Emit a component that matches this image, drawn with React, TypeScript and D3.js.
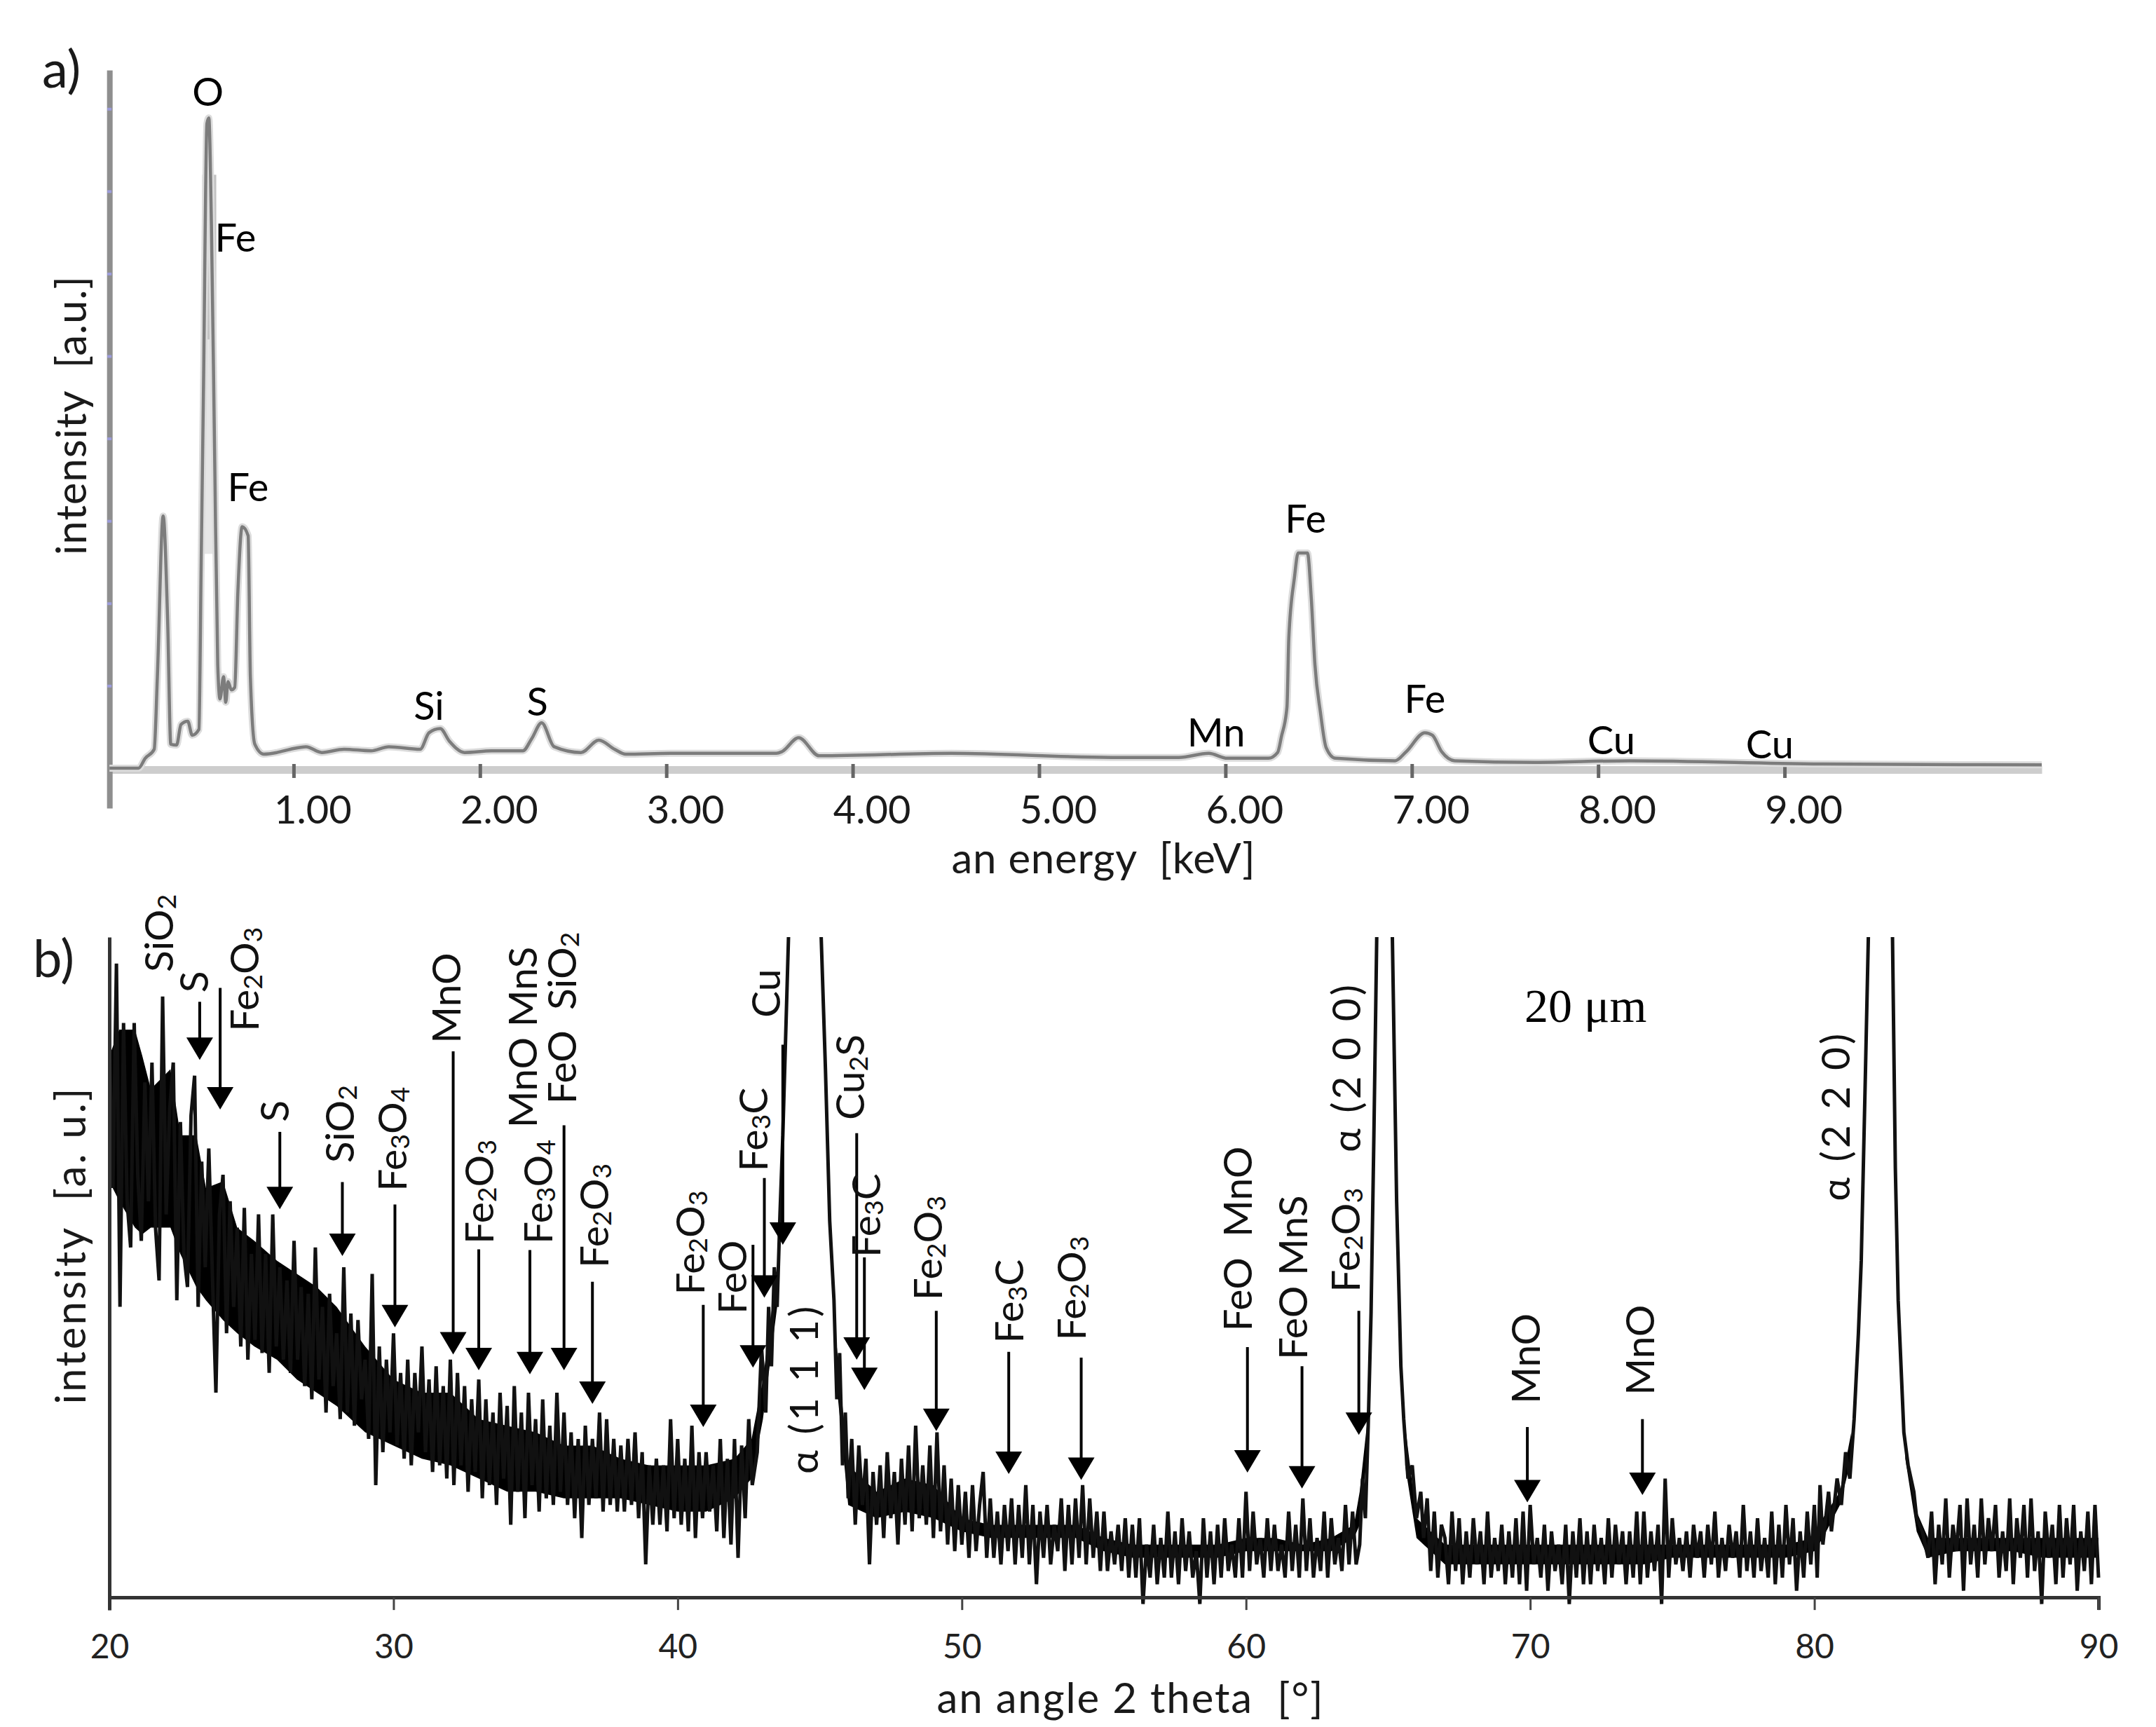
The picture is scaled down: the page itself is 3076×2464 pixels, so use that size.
// @ts-nocheck
import { useEffect, useRef } from 'react'
import * as d3 from 'd3'

// a) EDS spectrum, [energy keV, intensity]
const edsEnergy = [0.012, 0.168, 0.204, 0.252, 0.269, 0.3, 0.324, 0.341, 0.372, 0.396, 0.432, 0.456, 0.492, 0.504, 0.516, 0.535, 0.545, 0.559, 0.576, 0.593, 0.605, 0.624, 0.636, 0.648, 0.666, 0.684, 0.701, 0.724, 0.756, 0.768, 0.792, 0.84, 0.911, 0.983, 1.067, 1.151, 1.271, 1.415, 1.511, 1.679, 1.727, 1.787, 1.835, 1.918, 2.062, 2.23, 2.278, 2.331, 2.398, 2.542, 2.638, 2.722, 2.782, 3.021, 3.59, 3.62, 3.71, 3.82, 4.53, 5.39, 5.75, 5.91, 6.01, 6.23, 6.28, 6.3, 6.33, 6.34, 6.37, 6.39, 6.44, 6.46, 6.48, 6.51, 6.54, 6.59, 6.91, 6.97, 7.07, 7.11, 7.16, 7.23, 7.66, 8.17, 9.2, 10.38]
const edsIntensity = [0, 0, 0.12, 0.23, 1.11, 3.06, 1.8, 0.29, 0.28, 0.53, 0.57, 0.4, 0.47, 2.48, 4.53, 7.82, 7.89, 6.59, 3.85, 1.25, 0.84, 1.11, 0.8, 1.05, 0.95, 0.98, 2.14, 2.93, 2.82, 1.11, 0.29, 0.17, 0.19, 0.23, 0.26, 0.19, 0.23, 0.21, 0.26, 0.23, 0.43, 0.48, 0.33, 0.19, 0.21, 0.21, 0.36, 0.55, 0.26, 0.19, 0.34, 0.23, 0.17, 0.18, 0.18, 0.2, 0.37, 0.15, 0.18, 0.13, 0.13, 0.18, 0.12, 0.12, 0.19, 0.38, 0.74, 1.58, 2.31, 2.61, 2.61, 2.08, 1.26, 0.67, 0.25, 0.12, 0.09, 0.2, 0.43, 0.4, 0.2, 0.09, 0.07, 0.09, 0.05, 0.04]
const edsTicks = [1, 2, 3, 4, 5, 6, 7, 8, 9]
const edsLevels = [1, 2, 3, 4, 5, 6, 7, 8]
const edsLabels = [
  ['O', 0.54, 8.04],
  ['Fe', 0.688, 6.27],
  ['Fe', 0.756, 3.24],
  ['Si', 1.726, 0.59],
  ['S', 2.308, 0.64],
  ['Mn', 5.95, 0.26],
  ['Fe', 6.43, 2.86],
  ['Fe', 7.07, 0.67],
  ['Cu', 8.07, 0.17],
  ['Cu', 8.92, 0.12],
]
// grey smear of the scan inside the O line: energy range, then dark and pale intensity ranges
const oSmearEnergy = [0.51, 0.585]
const oSmearDark = [5.2, 7.2]
const oSmearPale = [2.6, 5.2]

// b) XRD pattern, noisy stretches are one value every 1/8 degree
const noiseStep = 0.125
const noiseLow = [
  84, 62, 96, 44, 87, 60, 53, 87,
  64, 54, 78, 60, 81, 56, 48, 91,
  58, 74, 81, 45, 72, 52, 47, 73,
  79, 44, 66, 50, 68, 49, 31, 58,
  64, 40, 60, 44, 56, 38, 59, 36,
  52, 39, 58, 37, 52, 34, 58, 38,
  50, 36, 48, 34, 54, 36, 47, 32,
  46, 30, 53, 33, 44, 28, 46, 32,
  40, 27, 50, 28, 43, 26, 42, 30,
  36, 24, 49, 17, 38, 22, 36, 25,
  40, 23, 34, 21, 36, 20, 34, 25,
  38, 22, 33, 19, 35, 20, 32, 18,
  36, 17, 34, 20, 32, 16, 30, 19,
  33, 15, 30, 17, 28, 14, 31, 18,
  29, 11, 32, 16, 28, 12, 31, 17,
  27, 13, 30, 15, 26, 14, 31, 16,
  28, 14, 25, 12, 24, 9, 26, 14,
  24, 15, 28, 13, 27, 14, 24, 13,
  23, 13, 24, 14, 25, 12, 22, 5,
  20, 11, 21, 11, 20, 10, 27, 12,
  24, 11, 21, 10, 26, 9, 22, 12,
  22, 13, 20, 10, 24, 9, 21, 8,
  24, 6, 23, 12, 27, 17,
]
const peak111 = [[42.8, 22], [42.95, 38], [43.1, 28], [43.2, 44], [43.3, 35], [43.4, 50], [43.5, 44], [43.6, 58], [43.7, 70], [43.9, 100], [44.5, 170], [45.05, 100], [45.2, 80], [45.35, 57], [45.5, 45], [45.6, 30], [45.7, 37], [45.8, 20], [45.9, 28]]
const noiseMid = [
  15, 24, 11, 23, 14, 21, 5, 19,
  11, 20, 9, 22, 12, 19, 8, 21,
  11, 23, 10, 26, 12, 20, 11, 23,
  9, 25, 10, 20, 8, 18, 7, 17,
  8, 16, 6, 17, 7, 14, 19, 6,
  15, 6, 13, 5, 14, 7, 15, 5,
  14, 6, 17, 5, 14, 2, 13, 6,
  14, 5, 11, 7, 15, 4, 14, 5,
  15, 6, 17, 5, 15, 6, 13, 4,
  13, 4, 10, 5, 11, 4, 12, 3,
  11, 3, 12, -1, 8, 3, 11, 2,
  9, 3, 13, 3, 10, 2, 12, 4,
  10, 3, 7, -1, 12, 3, 10, 2,
  11, 3, 12, 4, 8, 3, 12, 3,
  16, 4, 13, 5, 9, 3, 12, 4,
  11, 4, 8, 3, 13, 4, 11, 3,
  15, 4, 12, 3, 9, 4, 13, 3,
  12, 5, 9, 4, 14, 5, 13, 5,
]
const peak200 = [[64.0, 8], [64.1, 18], [64.2, 12], [64.3, 26], [64.4, 43], [64.5, 70], [64.6, 100], [64.9, 170], [65.15, 100], [65.3, 60], [65.45, 35], [65.55, 27], [65.7, 18], [65.85, 20], [66.0, 12], [66.15, 16]]
const noiseHigh = [
  9, 15, 4, 13, 3, 11,
  9, 2, 13, 4, 12, 2, 10, 3,
  12, 5, 10, 2, 13, 3, 9, 4,
  11, 2, 10, 3, 12, 2, 13, 1,
  14, 5, 9, 3, 11, 1, 10, 4,
  8, 2, 11, -1, 10, 3, 12, 2,
  10, 2, 11, 4, 9, 2, 12, 3,
  11, 5, 10, 2, 10, 3, 13, 2,
  13, 3, 10, 4, 11, -1, 18, 3,
  12, 5, 9, 4, 10, 3, 11, 6,
  10, 3, 11, 5, 13, 3, 9, 4,
  11, 6, 10, 3, 14, 4, 10, 3,
  12, 4, 9, 3, 13, 2, 11, 3,
  14, 5, 12, 1, 10, 3, 13, 5,
]
const peak220 = [[80.0, 14], [80.1, 3], [80.2, 17], [80.3, 8], [80.5, 16], [80.6, 10], [80.8, 18], [80.95, 14], [81.1, 22], [81.25, 18], [81.4, 27], [81.55, 40], [81.65, 51], [81.8, 80], [81.9, 100], [82.3, 170], [82.75, 100], [82.85, 65], [82.95, 45], [83.15, 25], [83.3, 20], [83.5, 16], [83.6, 12], [83.8, 10]]
const noiseEnd = [
  6, 13, 2, 11, 5, 15, 3, 11,
  7, 14, 1, 15, 5, 11, 3, 15,
  5, 12, 7, 14, 3, 10, 4, 15,
  2, 12, 6, 14, 3, 15, 4, 10,
  -1, 13, 6, 11, 2, 14, 3, 12,
  5, 14, 1, 10, 4, 13, 2, 14,
  3,
]
const xrdTicks = [20, 30, 40, 50, 60, 70, 80, 90]

// solid black core of the noise: angle, lower value, upper value
const coreAngles = [
  [20, 20.35, 20.9, 21.16, 21.46, 22.15, 22.5, 23.06, 23.4, 24, 24.5, 25.1, 25.9, 26.6, 27.3, 28, 29, 30, 31, 32, 33, 34, 35, 36, 37, 38, 39, 40, 41, 42, 42.6, 43, 43.5],
  [45.6, 46, 47, 48, 49, 50, 51, 52, 53, 54, 55, 56, 57, 58, 59, 60, 61, 62, 63, 63.8, 64, 64.3],
  [65.6, 66, 67, 68, 69, 70, 71, 72, 73, 74, 75, 76, 77, 78, 79, 80, 80.3, 80.9, 81.3],
  [83.2, 83.6, 84, 85, 86, 87, 88, 89, 90],
]
const coreLow = [
  [63, 60, 56, 55, 56, 56, 52, 47, 45, 42, 40, 38, 36, 33, 31, 29, 25, 23, 21, 20, 18, 16, 16, 15, 15, 15, 14, 13, 13, 15, 18, 27, 44],
  [32, 14, 12, 13, 12, 10, 9, 9, 9, 9, 7, 6, 6, 6, 6, 7, 7, 7, 7, 9, 11, 23],
  [20, 9, 5, 5, 5, 5, 5, 5, 5, 5, 6, 6, 6, 6, 6, 7, 9, 14, 21],
  [21, 10, 6, 7, 7, 7, 6, 6, 6],
]
const coreHigh = [
  [82, 86, 86, 82, 77, 80, 70, 70, 62, 63, 56, 54, 51, 49, 47, 44, 38, 33, 31, 31, 27, 26, 25, 23, 23, 21, 20, 20, 20, 21, 24, 33, 50],
  [38, 20, 16, 18, 17, 12, 11, 11, 11, 11, 9, 8, 8, 8, 8, 9, 9, 8, 9, 11, 16, 28],
  [26, 12, 8, 8, 8, 8, 8, 8, 8, 8, 8, 8, 8, 8, 8, 9, 12, 16, 25],
  [24, 13, 9, 9, 9, 9, 9, 9, 9],
]

// arrows: angle, value where the shaft starts, value at the tip
const xrdArrows = [
  [23.18, 90.2, 81.4], [23.9, 92.3, 73.9], [26.0, 70.5, 58.8], [28.2, 62.9, 51.7],
  [30.05, 59.5, 40.9], [32.1, 82.7, 36.8], [33.0, 52.7, 34.4], [34.8, 52.6, 33.8],
  [36.0, 71.5, 34.4], [37.0, 47.8, 29.3], [40.9, 44.3, 25.8], [42.65, 53.4, 34.8],
  [43.05, 63.5, 45.4], [43.7, 83.7, 53.4], [46.3, 70.3, 36], [46.57, 51.5, 31.4],
  [49.1, 43.4, 25.2], [51.65, 37.2, 18.7], [54.2, 36.3, 17.8], [60.05, 37.9, 18.9],
  [61.97, 35, 16.5], [63.97, 43.4, 24.6], [69.9, 25.8, 14.4], [73.95, 27, 15.5],
]
// rotated labels: text, angle, value at the start of the text
const xrdLabels = [
  ['SiO2', 21.7, 94.7], ['S', 22.93, 91.6], ['Fe2O3', 24.72, 85.7], ['S', 25.76, 72],
  ['SiO2', 28.06, 65.8], ['Fe3O4', 29.91, 61.5], ['MnO', 31.82, 83.9], ['Fe2O3', 32.97, 53.5],
  ['MnO MnS', 34.5, 71.1], ['Fe3O4', 35.05, 53.5], ['FeO  SiO2', 35.88, 74.7], ['Fe2O3', 37.02, 49.9],
  ['Fe2O3', 40.4, 45.8], ['FeO', 41.87, 42.9], ['Fe3C', 42.61, 64.5], ['Cu', 43.06, 87.8],
  ['α (1 1 1)', 44.4, 18.7], ['Cu2S', 46.03, 72.3], ['Fe3C', 46.59, 51.5], ['Fe2O3', 48.77, 45],
  ['Fe3C', 51.63, 38.5], ['Fe2O3', 53.81, 38.9], ['FeO  MnO', 59.65, 40.3], ['FeO MnS', 61.6, 36],
  ['Fe2O3', 63.46, 46.2], ['α (2 0 0)', 63.48, 67.4], ['MnO', 69.8, 29.3], ['MnO', 73.81, 30.6],
  ['α (2 2 0)', 80.7, 60],
]

const FONT = "Lato, 'Noto Sans', sans-serif"

// digits right after a letter become subscripts
function addFormula(text, label) {
  const parts = label.split(/(?<=[A-Za-z])(\d)/)
  let lowered = false
  parts.forEach((part, i) => {
    if (!part) return
    const isSub = i % 2 === 1
    const span = text.append('tspan').text(part)
    if (isSub) span.attr('font-size', '0.66em').attr('dy', '0.3em')
    else if (lowered) span.attr('dy', '-0.198em')
    lowered = isSub
  })
}

export default function App() {
  const svgRef = useRef<any>()

  useEffect(() => {
    const svg = d3.select(svgRef.current)
    svg.selectAll('*').remove()

    // ---- panel a
    const xA = d3.scaleLinear().domain([0, 10.38]).range([153, 2913])
    const yA = d3.scaleLinear().domain([-0.485, 8.47]).range([1153, 100])
    const lineA = d3
      .line()
      .curve(d3.curveMonotoneX)
      .x((d) => xA(d))
      .y((d) => yA(edsIntensity[edsEnergy.indexOf(d)]))

    const axisBottomA = svg
      .append('g')
      .attr('transform', `translate(0,${yA(0) + 2})`)
      .call(d3.axisBottom(xA).tickValues(edsTicks).tickSizeOuter(0).tickFormat(d3.format('.2f')))
    axisBottomA.select('.domain').attr('stroke', '#cdcdcd').attr('stroke-width', 11)
    axisBottomA.selectAll('.tick line').attr('y1', -8).attr('y2', 12).attr('stroke', '#666').attr('stroke-width', 5)
    axisBottomA
      .selectAll('.tick text')
      .attr('y', 77)
      .attr('dy', 0)
      .attr('dx', 27)
      .attr('font-family', FONT)
      .attr('font-size', 56)
      .attr('fill', '#1a1a1a')

    const axisLeftA = svg
      .append('g')
      .attr('transform', `translate(${xA(0.012)},0)`)
      .call(d3.axisLeft(yA).tickValues(edsLevels).tickSizeOuter(0).tickFormat(''))
    axisLeftA.select('.domain').attr('stroke', '#8e8e8e').attr('stroke-width', 8)
    axisLeftA.selectAll('.tick line').attr('x1', -3).attr('x2', 3).attr('stroke', '#9c9cdc').attr('stroke-width', 4)

    // smear inside the O line
    const drawSmear = (range, color) =>
      svg
        .append('rect')
        .attr('x', xA(oSmearEnergy[0]))
        .attr('width', xA(oSmearEnergy[1]) - xA(oSmearEnergy[0]))
        .attr('y', yA(range[1]))
        .attr('height', yA(range[0]) - yA(range[1]))
        .attr('fill', color)
    drawSmear(oSmearPale, '#e6e6e6')
    drawSmear(oSmearDark, '#c2c2c2')

    svg
      .append('path')
      .attr('d', lineA(edsEnergy))
      .attr('fill', 'none')
      .attr('stroke', '#dcdcdc')
      .attr('stroke-width', 10)
      .attr('stroke-linejoin', 'round')
    svg
      .append('path')
      .attr('d', lineA(edsEnergy))
      .attr('fill', 'none')
      .attr('stroke', '#7c7c7c')
      .attr('stroke-width', 4.5)
      .attr('stroke-linejoin', 'round')

    svg
      .append('g')
      .selectAll('text')
      .data(edsLabels)
      .enter()
      .append('text')
      .attr('x', (d) => xA(d[1]))
      .attr('y', (d) => yA(d[2]))
      .attr('text-anchor', 'middle')
      .attr('font-family', FONT)
      .attr('font-size', 56)
      .text((d) => d[0])

    // ---- panel b
    const xB = d3.scaleLinear().domain([20, 90]).range([156, 2994])
    const yB = d3.scaleLinear().domain([-1.9, 100]).range([2297, 1337])

    const stretch = (start, values) => values.map((v, i) => [start + i * noiseStep, v])
    const xrd = [
      ...stretch(20, noiseLow),
      ...peak111,
      ...stretch(46, noiseMid),
      ...peak200,
      ...stretch(66.25, noiseHigh),
      ...peak220,
      ...stretch(84, noiseEnd),
    ]

    coreAngles.forEach((angles, k) => {
      const area = d3
        .area()
        .x((_, i) => xB(angles[i]))
        .y0((_, i) => yB(coreLow[k][i]))
        .y1((_, i) => yB(coreHigh[k][i]))
      svg.append('path').attr('d', area(angles)).attr('fill', '#000')
    })

    svg
      .append('clipPath')
      .attr('id', 'xrd-clip')
      .append('rect')
      .attr('x', xB(20))
      .attr('y', yB(100))
      .attr('width', xB(90) - xB(20) + 4)
      .attr('height', yB(-1.9) - yB(100))

    svg
      .append('path')
      .attr('clip-path', 'url(#xrd-clip)')
      .attr('d', d3.line().x((d) => xB(d[0])).y((d) => yB(d[1]))(xrd))
      .attr('fill', 'none')
      .attr('stroke', '#111')
      .attr('stroke-width', 5)
      .attr('stroke-linejoin', 'bevel')

    const axisBottomB = svg
      .append('g')
      .attr('transform', `translate(0,${yB(0)})`)
      .call(d3.axisBottom(xB).tickValues(xrdTicks).tickSizeOuter(0).tickSize(18))
    axisBottomB.select('.domain').attr('stroke', '#333').attr('stroke-width', 5)
    axisBottomB.selectAll('.tick line').attr('stroke', '#444').attr('stroke-width', 3)
    axisBottomB
      .selectAll('.tick text')
      .attr('y', 87)
      .attr('dy', 0)
      .attr('font-family', FONT)
      .attr('font-size', 48)
      .attr('fill', '#222')

    const axisLeftB = svg
      .append('g')
      .attr('transform', `translate(${xB(20)},0)`)
      .call(d3.axisLeft(yB).tickValues([]).tickSizeOuter(0))
    axisLeftB.select('.domain').attr('stroke', '#333').attr('stroke-width', 5)

    const arrows = svg.append('g')
    xrdArrows.forEach(([angle, from, to]) => {
      const x = xB(angle)
      const tip = yB(to)
      arrows
        .append('line')
        .attr('x1', x)
        .attr('x2', x)
        .attr('y1', yB(from))
        .attr('y2', tip - 20)
        .attr('stroke', '#000')
        .attr('stroke-width', 4)
      arrows
        .append('path')
        .attr('d', `M${x - 19},${tip - 32}L${x + 19},${tip - 32}L${x},${tip}Z`)
        .attr('fill', '#000')
    })

    xrdLabels.forEach(([label, angle, value]) => {
      const t = svg
        .append('text')
        .attr('transform', `translate(${xB(angle)},${yB(value)}) rotate(-90)`)
        .attr('dominant-baseline', 'central')
        .attr('font-family', FONT)
        .attr('font-size', 57)
        .attr('letter-spacing', label.startsWith('α') ? 4 : 0)
        .attr('fill', '#111')
        .style('white-space', 'pre')
      addFormula(t, label)
    })

    svg
      .append('text')
      .attr('x', xB(71.95))
      .attr('y', yB(87.2))
      .attr('text-anchor', 'middle')
      .attr('font-family', "'Liberation Serif', serif")
      .attr('font-size', 68)
      .text('20 μm')

    // ---- panel letters and axis titles
    const title = (text, x, y, size, length = null, rotate = false, anchor = 'middle') => {
      const t = svg
        .append('text')
        .attr('transform', `translate(${x},${y})${rotate ? ' rotate(-90)' : ''}`)
        .attr('text-anchor', anchor)
        .attr('font-family', FONT)
        .attr('font-size', size)
        .attr('fill', '#1a1a1a')
        .style('white-space', 'pre')
        .text(text)
      if (length) t.attr('textLength', length).attr('lengthAdjust', 'spacing')
    }

    title('a)', 60, 125, 74, null, false, 'start')
    title('b)', 47, 1394, 74, null, false, 'start')
    title('intensity  [a.u.]', 123, 593, 60, 398, true)
    title('intensity  [a. u.]', 122, 1778, 60, 451, true)
    title('an energy  [keV]', 1574, 1246, 60, 433)
    title('an angle 2 theta  [°]', 1612, 2444, 60, 551)
  }, [])

  return (
    <svg
      ref={svgRef}
      width={3076}
      height={2464}
      style={{ position: 'absolute', left: 0, top: 0, background: '#fff' }}
    ></svg>
  )
}
